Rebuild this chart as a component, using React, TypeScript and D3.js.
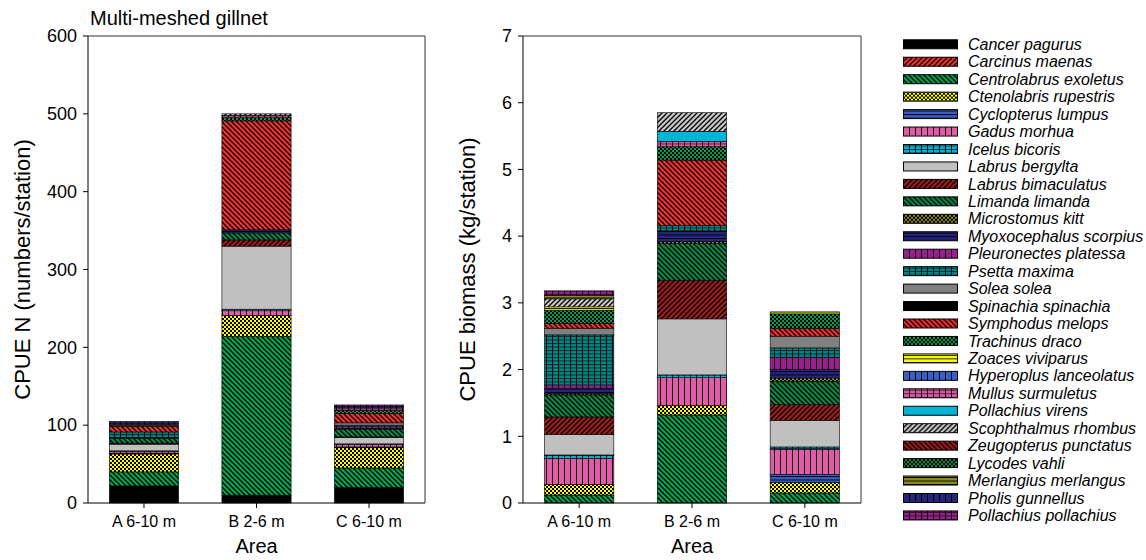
import React from 'react';
import * as d3 from 'd3';

const areas = ['A 6-10 m', 'B 2-6 m', 'C 6-10 m'];

const species = [
  'Cancer pagurus', 'Carcinus maenas', 'Centrolabrus exoletus', 'Ctenolabris rupestris',
  'Cyclopterus lumpus', 'Gadus morhua', 'Icelus bicoris', 'Labrus bergylta',
  'Labrus bimaculatus', 'Limanda limanda', 'Microstomus kitt', 'Myoxocephalus scorpius',
  'Pleuronectes platessa', 'Psetta maxima', 'Solea solea', 'Spinachia spinachia',
  'Symphodus melops', 'Trachinus draco', 'Zoaces viviparus', 'Hyperoplus lanceolatus',
  'Mullus surmuletus', 'Pollachius virens', 'Scophthalmus rhombus', 'Zeugopterus punctatus',
  'Lycodes vahli', 'Merlangius merlangus', 'Pholis gunnellus', 'Pollachius pollachius',
];

// CPUE N (numbers/station), one value per species (legend order)
const numbersA = [22, 0, 18, 23, 1, 2, 1, 8.6, 1.3, 6.4, 0, 1, 0, 7, 0, 0, 7, 1.5, 1, 0, 1, 0, 0, 0, 0, 0, 3, 0];
const numbersB = [10, 0, 204, 27, 0, 6, 2, 81, 8, 9, 0, 4, 0, 0, 0, 0, 140, 4, 0, 0, 3, 0, 2, 0, 0, 0, 0, 0];
const numbersC = [20, 0, 25, 26, 1, 3, 1, 8, 1, 10, 0, 1, 2, 2, 3, 0, 12, 4, 0, 0, 3, 0, 0, 0, 0, 0, 2, 2];

// CPUE biomass (kg/station)
const biomassA = [0, 0, 0.12, 0.16, 0, 0.39, 0.05, 0.31, 0.26, 0.33, 0.02, 0.08, 0.05, 0.75, 0.1, 0, 0.07, 0.2, 0.05, 0, 0, 0, 0.12, 0, 0, 0.05, 0, 0.07];
const biomassB = [0, 0, 1.32, 0.14, 0, 0.42, 0.04, 0.84, 0.58, 0.55, 0.03, 0.16, 0, 0.08, 0, 0, 0.98, 0.2, 0, 0, 0.08, 0.15, 0.28, 0, 0, 0, 0, 0];
const biomassC = [0, 0, 0.15, 0.16, 0.12, 0.375, 0.035, 0.4, 0.235, 0.35, 0.05, 0.125, 0.185, 0.14, 0.175, 0, 0.115, 0.22, 0.03, 0, 0, 0, 0, 0, 0, 0, 0, 0];

const leftTicks = [0, 100, 200, 300, 400, 500, 600];
const rightTicks = [0, 1, 2, 3, 4, 5, 6, 7];

// fill colour and pattern type per species
const fills = [
  '#000000', '#f83030', '#00a651', '#ffff00', '#3a5ec8', '#e35aa8', '#00b4d6', '#c0c0c0',
  '#a11c1c', '#0a8a48', '#8a8a20', '#25257e', '#9a1f8e', '#008787', '#808080', '#000000',
  '#f83030', '#00a050', '#ffff00', '#3a5ec8', '#e35aa8', '#00b4d6', '#c8c8c8', '#a11c1c',
  '#0a8a48', '#8a8a20', '#25257e', '#9a1f8e',
];
const kinds = [
  'solid', 'fwd', 'back', 'cross', 'hlines', 'vlines', 'grid', 'solid',
  'fwd', 'back', 'cross', 'hlines', 'vlines', 'grid', 'solid', 'solid',
  'back', 'cross', 'hlines', 'vlines', 'grid', 'solid', 'fwd', 'back',
  'cross', 'hlines', 'vlines', 'grid',
];

const FONT = 'Liberation Sans, Arial, sans-serif';

function Pattern({ i }: { i: number }) {
  const id = `pat${i}`;
  const bg = fills[i];
  const k = kinds[i];
  const s = '#000';
  if (k === 'fwd')
    return (
      <pattern id={id} patternUnits="userSpaceOnUse" width={5} height={5}>
        <rect width={5} height={5} fill={bg} />
        <path d="M0,5 L5,0 M-1,1 L1,-1 M4,6 L6,4" stroke={s} strokeWidth={1.3} />
      </pattern>
    );
  if (k === 'back')
    return (
      <pattern id={id} patternUnits="userSpaceOnUse" width={5} height={5}>
        <rect width={5} height={5} fill={bg} />
        <path d="M0,0 L5,5 M-1,4 L1,6 M4,-1 L6,1" stroke={s} strokeWidth={1.3} />
      </pattern>
    );
  if (k === 'cross')
    return (
      <pattern id={id} patternUnits="userSpaceOnUse" width={4} height={4}>
        <rect width={4} height={4} fill={bg} />
        <rect x={0} y={0} width={2} height={2} fill={s} />
        <rect x={2} y={2} width={2} height={2} fill={s} />
      </pattern>
    );
  if (k === 'hlines')
    return (
      <pattern id={id} patternUnits="userSpaceOnUse" width={6} height={3.5}>
        <rect width={6} height={3.5} fill={bg} />
        <line x1={0} x2={6} y1={0.5} y2={0.5} stroke={s} strokeWidth={0.9} />
      </pattern>
    );
  if (k === 'vlines')
    return (
      <pattern id={id} patternUnits="userSpaceOnUse" width={6} height={6}>
        <rect width={6} height={6} fill={bg} />
        <line x1={0.5} x2={0.5} y1={0} y2={6} stroke={s} strokeWidth={1} />
      </pattern>
    );
  if (k === 'grid')
    return (
      <pattern id={id} patternUnits="userSpaceOnUse" width={6} height={3.5}>
        <rect width={6} height={3.5} fill={bg} />
        <line x1={0.5} x2={0.5} y1={0} y2={3.5} stroke={s} strokeWidth={1} />
        <line x1={0} x2={6} y1={0.5} y2={0.5} stroke={s} strokeWidth={0.7} />
      </pattern>
    );
  return null;
}

const fillOf = (i: number) => (kinds[i] === 'solid' ? fills[i] : `url(#pat${i})`);

type PanelProps = {
  x0: number; x1: number; yTop: number; yBot: number;
  values: number[][]; max: number; ticks: number[]; ylabel: string; labelX: number;
};

function Panel({ x0, x1, yTop, yBot, values, max, ticks, ylabel, labelX }: PanelProps) {
  const x = d3.scaleBand<string>().domain(areas).range([x0, x1]).paddingInner(0.385).paddingOuter(0.19);
  const y = d3.scaleLinear().domain([0, max]).range([yBot, yTop]);
  const rows = areas.map((a, ai) => {
    const r: Record<string, number | string> = { area: a };
    species.forEach((s, si) => (r[s] = values[ai][si]));
    return r;
  });
  const stacked = d3.stack<Record<string, number | string>>().keys(species)(rows as any);
  return (
    <g>
      {stacked.map((ser, si) =>
        ser.map((d, ai) => {
          const h = y(d[0]) - y(d[1]);
          if (h <= 0) return null;
          return (
            <rect key={`${si}-${ai}`} x={x(areas[ai])} width={x.bandwidth()} y={y(d[1])} height={h}
              fill={fillOf(si)} stroke="#000" strokeWidth={0.6} />
          );
        })
      )}
      {/* frame */}
      <path d={`M${x0},${yTop} H${x1} V${yBot}`} fill="none" stroke="#333" strokeWidth={1} />
      <line x1={x0} x2={x0} y1={yTop} y2={yBot} stroke="#000" strokeWidth={1} />
      <line x1={x0} x2={x1} y1={yBot} y2={yBot} stroke="#000" strokeWidth={1} />
      {ticks.map((t) => (
        <g key={t}>
          <line x1={x0 - 5} x2={x0} y1={y(t)} y2={y(t)} stroke="#000" />
          <text x={x0 - 11} y={y(t)} dy="0.35em" textAnchor="end" fontSize={18} fontFamily={FONT}>{t}</text>
        </g>
      ))}
      {areas.map((a) => (
        <g key={a}>
          <line x1={x(a)! + x.bandwidth() / 2} x2={x(a)! + x.bandwidth() / 2} y1={yBot} y2={yBot + 5} stroke="#000" />
          <text x={x(a)! + x.bandwidth() / 2} y={yBot + 24} textAnchor="middle" fontSize={16} fontFamily={FONT}>{a}</text>
        </g>
      ))}
      <text x={(x0 + x1) / 2} y={yBot + 50} textAnchor="middle" fontSize={20} fontFamily={FONT}>Area</text>
      <text transform={`translate(${labelX},${(yTop + yBot) / 2}) rotate(-90)`} textAnchor="middle"
        dy="0.35em" fontSize={22} fontFamily={FONT}>{ylabel}</text>
    </g>
  );
}

export default function App() {
  const legendX = 903;
  const legendY0 = 44.3;
  const legendStep = 17.45;
  return (
    <svg width={1146} height={560} style={{ position: 'absolute', left: 0, top: 0, background: '#fff' }}>
      <defs>
        {species.map((_, i) => <Pattern key={i} i={i} />)}
      </defs>
      <rect width={1146} height={560} fill="#fff" />
      <text x={90} y={25} fontSize={20} fontFamily={FONT}>Multi-meshed gillnet</text>
      <Panel x0={88} x1={425} yTop={36} yBot={503} values={[numbersA, numbersB, numbersC]} max={600}
        ticks={leftTicks} ylabel="CPUE N (numbers/station)" labelX={22} />
      <Panel x0={523} x1={861} yTop={36} yBot={503} values={[biomassA, biomassB, biomassC]} max={7}
        ticks={rightTicks} ylabel="CPUE biomass (kg/station)" labelX={467} />
      {species.map((s, i) => (
        <g key={s} transform={`translate(${legendX},${legendY0 + i * legendStep})`}>
          <rect x={0.5} y={-4.5} width={54} height={9} fill={fillOf(i)} stroke="#000" strokeWidth={1} />
          <text x={65} y={0} dy="0.35em" fontSize={16} fontStyle="italic" fontFamily={FONT}>{s}</text>
        </g>
      ))}
    </svg>
  );
}
